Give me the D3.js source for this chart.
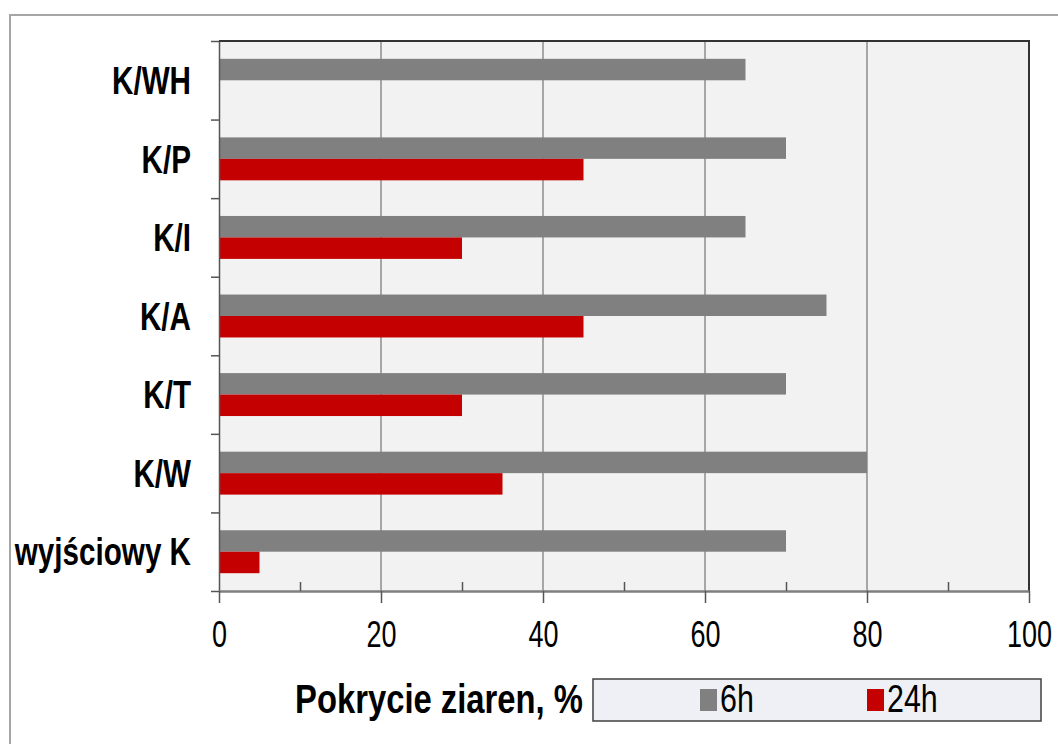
<!DOCTYPE html>
<html>
<head>
<meta charset="utf-8">
<script src="https://cdn.jsdelivr.net/npm/d3@7"></script>
<style>
  body { margin: 0; background: #fff; }
  text { font-family: "Liberation Sans", Arial, sans-serif; }
</style>
</head>
<body>
<script>
// data
var categories = ["K/WH", "K/P", "K/I", "K/A", "K/T", "K/W", "wyjściowy K"];
var series = ["6h", "24h"];
var values6h = [65, 70, 65, 75, 70, 80, 70];
var values24h = [null, 45, 30, 45, 30, 35, 5];
var xTicks = [0, 20, 40, 60, 80, 100];
var xMinorTicks = [10, 30, 50, 70, 90];
var colors = {"6h": "#808080", "24h": "#c40000"};

var width = 1058, height = 744;
var plot = {left: 219, right: 1029, top: 41, bottom: 591};
var squeeze = 0.75; // the text in the picture is narrowed sideways

var svg = d3.select("body").append("svg").attr("width", width).attr("height", height);

// outer frame
svg.append("path")
    .attr("d", "M10," + height + " L10,15 L" + width + ",15")
    .attr("fill", "none").attr("stroke", "#a6a6a6").attr("stroke-width", 2);

var x = d3.scaleLinear().domain([0, 100]).range([plot.left, plot.right]);
var y = d3.scaleBand().domain(categories).range([plot.top, plot.bottom]);
var yEdge = d3.scaleLinear().domain([0, categories.length]).range([plot.top, plot.bottom]);
var sub = d3.scaleBand().domain(series).range([0, y.bandwidth()]).paddingOuter(0.83);

// plot background
svg.append("rect")
    .attr("x", plot.left).attr("y", plot.top)
    .attr("width", plot.right - plot.left).attr("height", plot.bottom - plot.top)
    .attr("fill", "#f2f2f2");

// gridlines
svg.append("g").selectAll("line")
    .data(xTicks.filter(function(d){ return d > 0 && d < 100; }))
    .enter().append("line")
    .attr("x1", function(d){ return x(d); }).attr("x2", function(d){ return x(d); })
    .attr("y1", plot.top).attr("y2", plot.bottom)
    .attr("stroke", "#8c8c8c").attr("stroke-width", 1.5);

// bars
var rows = categories.map(function(c, i){
    return {cat: c, values: [{s: "6h", v: values6h[i]}, {s: "24h", v: values24h[i]}]};
});

var groups = svg.append("g").selectAll("g")
    .data(rows).enter().append("g")
    .attr("transform", function(d){ return "translate(0," + y(d.cat) + ")"; });

groups.selectAll("rect")
    .data(function(d){ return d.values.filter(function(e){ return e.v != null; }); })
    .enter().append("rect")
    .attr("x", x(0))
    .attr("y", function(d){ return sub(d.s); })
    .attr("width", function(d){ return x(d.v) - x(0); })
    .attr("height", sub.bandwidth())
    .attr("fill", function(d){ return colors[d.s]; });

// plot border top and right
svg.append("path")
    .attr("d", "M" + plot.left + "," + plot.top + " L" + plot.right + "," + plot.top + " L" + plot.right + "," + plot.bottom)
    .attr("fill", "none").attr("stroke", "#333").attr("stroke-width", 2);

// y axis: boundary ticks + labels
var yTickAxis = svg.append("g")
    .attr("transform", "translate(" + plot.left + ",0)")
    .call(d3.axisLeft(yEdge).tickValues(d3.range(categories.length + 1)).tickFormat("").tickSize(8).tickSizeOuter(0));
yTickAxis.selectAll("line, path").attr("stroke", "#555").attr("stroke-width", 1.5);

var yLabels = svg.append("g")
    .attr("transform", "translate(" + plot.left + ",0)")
    .call(d3.axisLeft(y).tickSize(0).tickPadding(28));
yLabels.select(".domain").remove();
yLabels.selectAll("text")
    .attr("font-size", 38).attr("font-weight", "bold").attr("fill", "#000")
    .attr("font-family", "'Liberation Sans', Arial, sans-serif")
    .attr("transform", "translate(-28,0) scale(0.78,1) translate(28,0)")
    .attr("dy", "0.36em");

// x axis
var xAxis = svg.append("g")
    .attr("transform", "translate(0," + plot.bottom + ")")
    .call(d3.axisBottom(x).tickValues(xTicks).tickSize(12).tickSizeOuter(0).tickPadding(18));
xAxis.select(".domain").attr("stroke", "#7f7f7f").attr("stroke-width", 2.5);
xAxis.selectAll("line").attr("stroke", "#555").attr("stroke-width", 1.5);
xAxis.selectAll("text")
    .attr("font-size", 36).attr("fill", "#000")
    .attr("font-family", "'Liberation Sans', Arial, sans-serif")
    .attr("transform", "scale(" + squeeze + ",1)");

var xMinor = svg.append("g")
    .attr("transform", "translate(0," + plot.bottom + ")")
    .call(d3.axisTop(x).tickValues(xMinorTicks).tickSize(9).tickFormat(""));
xMinor.select(".domain").remove();
xMinor.selectAll("line").attr("stroke", "#555").attr("stroke-width", 1.5);

// axis title
svg.append("text")
    .attr("transform", "translate(583,713) scale(0.82,1)")
    .attr("text-anchor", "end")
    .attr("font-size", 40).attr("font-weight", "bold")
    .text("Pokrycie ziaren, %");

// legend
var legend = svg.append("g");
legend.append("rect")
    .attr("x", 593).attr("y", 679).attr("width", 448).attr("height", 42)
    .attr("fill", "#eef0f6").attr("stroke", "#404040").attr("stroke-width", 1.5);

var legendX = d3.scalePoint().domain(series).range([700, 867]);
var items = legend.selectAll("g.item").data(series).enter().append("g")
    .attr("class", "item")
    .attr("transform", function(d){ return "translate(" + legendX(d) + ",689)"; });
items.append("rect")
    .attr("width", 17).attr("height", 22)
    .attr("fill", function(d){ return colors[d]; });
items.append("text")
    .attr("transform", "translate(20,23) scale(0.8,1)")
    .attr("font-size", 38)
    .text(function(d){ return d; });
</script>
</body>
</html>
